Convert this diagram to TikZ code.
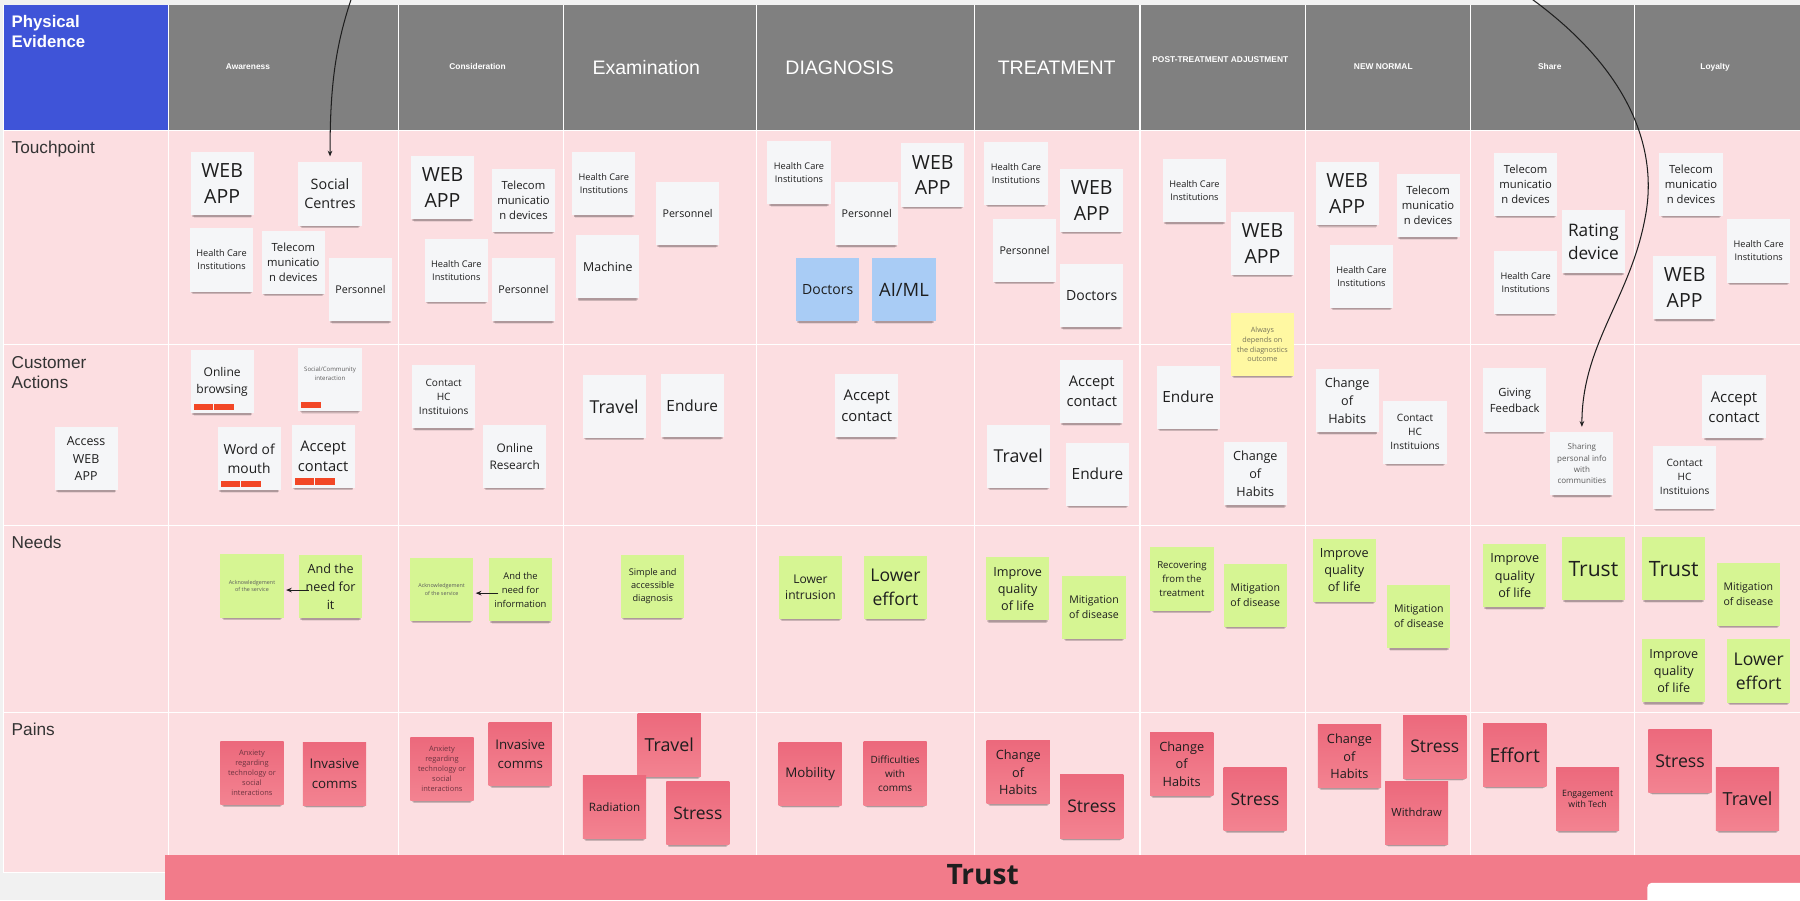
\documentclass[tikz,border=0pt]{standalone}
\usepackage{fontspec}
\setmainfont{Open Sans}
\newfontfamily\arialfont{Liberation Sans}
\usepackage{tikz}
\usetikzlibrary{arrows.meta}
\usetikzlibrary{shadows}
\definecolor{board}{HTML}{F1F1F1}
\definecolor{lane}{HTML}{FCDEE1}
\definecolor{headgray}{HTML}{808080}
\definecolor{evblue}{HTML}{3F54D8}
\definecolor{paper}{HTML}{F5F6F8}
\definecolor{noteblue}{HTML}{A9CCF5}
\definecolor{notegreen}{HTML}{D6F593}
\definecolor{noteyellow}{HTML}{FFF8A2}
\definecolor{redtop}{HTML}{EC697C}
\definecolor{redbot}{HTML}{F38391}
\definecolor{trustbar}{HTML}{F27B8A}
\definecolor{tagred}{HTML}{F24726}
\definecolor{ink}{HTML}{1E1E1E}
\definecolor{muted}{HTML}{5C5C5C}
\definecolor{mutedred}{HTML}{6E3440}
\definecolor{olivegray}{HTML}{76735A}
\definecolor{labelgray}{HTML}{333333}

\begin{document}
\begin{tikzpicture}[x=1pt, y=-1pt,
    note/.style = {rectangle, minimum width=55pt, minimum height=55pt, inner sep=1pt, align=center, text=ink,
                   general shadow={shadow yshift=-2.5pt, shadow scale=0.96, fill=black, opacity=0.14},
                   general shadow={shadow yshift=-4pt, shadow scale=0.93, fill=black, opacity=0.12},
                   general shadow={shadow yshift=-5.5pt, shadow scale=0.9, fill=black, opacity=0.08}},
    wnote/.style = {note, fill=paper},
    bnote/.style = {note, fill=noteblue},
    gnote/.style = {note, fill=notegreen},
    ynote/.style = {note, fill=noteyellow},
    rnote/.style = {note, top color=redtop, bottom color=redbot},
    fs/.style 2 args = {font=\fontsize{#1}{#2}\selectfont},
    lanelabel/.style = {anchor=base west, inner sep=0pt, text=labelgray, font=\arialfont\fontsize{15}{17}\selectfont},
    evlabel/.style = {anchor=base west, inner sep=0pt, text=white, font=\arialfont\bfseries\fontsize{14.6}{17}\selectfont},
    stage/.style = {anchor=base, inner sep=0pt, text=white, font=\arialfont\bfseries\fontsize{7.3}{9}\selectfont},
    bigstage/.style = {anchor=base west, inner sep=0pt, text=white, font=\arialfont\fontsize{17}{20}\selectfont},
    flow/.style = {-{Stealth[length=5pt,width=4pt]}, draw=ink, line width=0.9pt},
    tag/.style = {fill=tagred}]

    % Board
    \fill[board] (0,0) rectangle (1568,784);
    \useasboundingbox (0,0) rectangle (1568,784);
    \fill[lane] (3,114) rectangle (146.5,760);
    \fill[lane] (146.5,114) rectangle (1568,745);
    \fill[evblue] (3,4) rectangle (146.5,114);
    \fill[headgray] (146.5,4) rectangle (1568,114);
    \foreach \x in {146.5,347,491,659,849,993,1137,1281,1424}
        \draw[white, line width=1pt] (\x,4) -- (\x,745);
    \foreach \y in {114,300,458,621}
        \draw[white, line width=1pt] (3,\y) -- (1568,\y);
    \draw[white, line width=1pt] (3,4) -- (3,760) -- (146.5,760);
    \fill[trustbar] (144,745) rectangle (1568,784);
    \fill[white, rounded corners=4pt] (1435,769) rectangle (1590,800);

    % Headings
    \node[evlabel] (pe1) at (10,23.8) {Physical};
    \node[evlabel] (pe2) at (10,41.2) {Evidence};
    \node[stage] (s1) at (216,60.4) {Awareness};
    \node[stage] (s2) at (416,60.4) {Consideration};
    \node[bigstage] (s3) at (516,64.5) {Examination};
    \node[bigstage] (s4) at (684,64.5) {DIAGNOSIS};
    \node[bigstage] (s5) at (869,64.5) {TREATMENT};
    \node[stage] (s6) at (1063,54.6) {POST-TREATMENT ADJUSTMENT};
    \node[stage] (s7) at (1205,60.4) {NEW NORMAL};
    \node[stage] (s8) at (1350,60.4) {Share};
    \node[stage] (s9) at (1494,60.4) {Loyalty};
    \node[lanelabel] (l1) at (10,134) {Touchpoint};
    \node[lanelabel] (l2) at (10,320.7) {Customer};
    \node[lanelabel] (l3) at (10,338.3) {Actions};
    \node[lanelabel] (l4) at (10,477.6) {Needs};
    \node[lanelabel] (l5) at (10,641.1) {Pains};
    \node[font=\bfseries\fontsize{24.5}{28}\selectfont, text=ink] (trust) at (856,762) {Trust};

    % Touchpoint
    \node[wnote, fs={17}{22.5}] (t-aw-1) at (193.5,160) {WEB\\APP};
    \node[wnote, fs={12.5}{16.5}] (t-aw-2) at (287.5,169) {Social\\Centres};
    \node[wnote, fs={8}{11.3}] (t-aw-3) at (193,226.5) {Health Care\\Institutions};
    \node[wnote, fs={9.8}{13}] (t-aw-4) at (255.5,228.5) {Telecom\\municatio\\n devices};
    \node[wnote, fs={9.3}{12.5}] (t-aw-5) at (314,252.5) {Personnel};
    \node[wnote, fs={17}{22.5}] (t-co-1) at (385.5,163.5) {WEB\\APP};
    \node[wnote, fs={9.8}{13}] (t-co-2) at (456,174.5) {Telecom\\municatio\\n devices};
    \node[wnote, fs={8}{11.3}] (t-co-3) at (397.5,235.5) {Health Care\\Institutions};
    \node[wnote, fs={9.3}{12.5}] (t-co-4) at (456,252.5) {Personnel};
    \node[wnote, fs={8}{11.3}] (t-ex-1) at (526,160) {Health Care\\Institutions};
    \node[wnote, fs={9.3}{12.5}] (t-ex-2) at (599,186) {Personnel};
    \node[wnote, fs={10.8}{14}] (t-ex-3) at (529.5,232.5) {Machine};
    \node[wnote, fs={8}{11.3}] (t-di-1) at (696,150.5) {Health Care\\Institutions};
    \node[wnote, fs={9.3}{12.5}] (t-di-2) at (755,186) {Personnel};
    \node[wnote, fs={17}{22.5}] (t-di-3) at (812.5,152.5) {WEB\\APP};
    \node[bnote, fs={12.2}{16}] (t-di-4) at (721,252.5) {Doctors};
    \node[bnote, fs={16}{20}] (t-di-5) at (787.5,252.5) {AI/ML};
    \node[wnote, fs={8}{11.3}] (t-tr-1) at (885,151) {Health Care\\Institutions};
    \node[wnote, fs={17}{22.5}] (t-tr-2) at (951,174.5) {WEB\\APP};
    \node[wnote, fs={9.3}{12.5}] (t-tr-3) at (892.5,218) {Personnel};
    \node[wnote, fs={12.2}{16}] (t-tr-4) at (951,257.5) {Doctors};
    \node[wnote, fs={8}{11.3}] (t-po-1) at (1040.5,166) {Health Care\\Institutions};
    \node[wnote, fs={17}{22.5}] (t-po-2) at (1099.7,212) {WEB\\APP};
    \node[ynote, fs={6.3}{8.6}, text=olivegray] (t-po-3) at (1099.7,300) {Always\\depends on\\the diagnostics\\outcome};
    \node[wnote, fs={17}{22.5}] (t-nn-1) at (1173.5,168.5) {WEB\\APP};
    \node[wnote, fs={9.8}{13}] (t-nn-2) at (1244,179) {Telecom\\municatio\\n devices};
    \node[wnote, fs={8}{11.3}] (t-nn-3) at (1186,240.5) {Health Care\\Institutions};
    \node[wnote, fs={9.8}{13}] (t-sh-1) at (1329,160.5) {Telecom\\municatio\\n devices};
    \node[wnote, fs={15}{20}] (t-sh-2) at (1388,210.5) {Rating\\device};
    \node[wnote, fs={8}{11.3}] (t-sh-3) at (1329,246) {Health Care\\Institutions};
    \node[wnote, fs={9.8}{13}] (t-lo-1) at (1473,160.5) {Telecom\\municatio\\n devices};
    \node[wnote, fs={8}{11.3}] (t-lo-2) at (1532,218.6) {Health Care\\Institutions};
    \node[wnote, fs={17}{22.5}] (t-lo-3) at (1467.5,250.5) {WEB\\APP};

    % Customer actions
    \node[wnote, fs={10.8}{15}] (c-lane) at (75,399.5) {Access\\WEB\\APP};
    \node[wnote, fs={10.5}{15}] (c-aw-1) at (193.5,332.5) {Online\\browsing};
    \node[wnote] (c-aw-2) at (287.5,330.5) {};
    \node[fs={5.3}{7.8}, text=muted, align=center, anchor=north, inner sep=0pt] (c-aw-2t) at ([yshift=-17pt]c-aw-2.north) {Social/Community\\interaction};
    \node[wnote, fs={12}{16}] (c-aw-3) at (217,399.7) {Word of\\mouth};
    \node[wnote, fs={12.8}{17}] (c-aw-4) at (281.5,397.4) {Accept\\contact};
    \foreach \n/\k in {c-aw-1/2, c-aw-2/1, c-aw-3/2, c-aw-4/2}
        \foreach \i in {1,...,\k}
            \fill[tag] ([shift={(2.8+17.9*\i-17.9,-2.8)}]\n.south west) rectangle +(17.3,-5.5);
    \node[wnote, fs={8.8}{12.2}] (c-co-1) at (386.5,345.5) {Contact\\HC\\Instituions};
    \node[wnote, fs={10.3}{15}] (c-co-2) at (448.4,397.5) {Online\\Research};
    \node[wnote, fs={15.5}{20}] (c-ex-1) at (535,354) {Travel};
    \node[wnote, fs={13.4}{17}] (c-ex-2) at (603,353.5) {Endure};
    \node[wnote, fs={12.9}{17.7}] (c-di-1) at (755,353.5) {Accept\\contact};
    \node[wnote, fs={12.8}{17.7}] (c-tr-1) at (951,341) {Accept\\contact};
    \node[wnote, fs={15.5}{20}] (c-tr-2) at (887,397.4) {Travel};
    \node[wnote, fs={13.4}{17}] (c-tr-3) at (956,413) {Endure};
    \node[wnote, fs={13.4}{17}] (c-po-1) at (1035,346) {Endure};
    \node[wnote, fs={11}{15.7}] (c-po-2) at (1093.5,412.8) {Change\\of\\Habits};
    \node[wnote, fs={11}{15.7}] (c-nn-1) at (1173.5,349) {Change\\of\\Habits};
    \node[wnote, fs={8.8}{12.2}] (c-nn-2) at (1232.6,376.5) {Contact\\HC\\Instituions};
    \node[wnote, fs={9.8}{14}] (c-sh-1) at (1319.5,348.5) {Giving\\Feedback};
    \node[wnote, fs={7}{9.8}, text=muted] (c-sh-2) at (1378,404) {Sharing\\personal info\\with\\communities};
    \node[wnote, fs={13}{17.5}] (c-lo-1) at (1510.5,354.4) {Accept\\contact};
    \node[wnote, fs={8.8}{12.2}] (c-lo-2) at (1467.5,415.7) {Contact\\HC\\Instituions};

    % Needs
    \node[gnote, fs={4.7}{6.8}, text=muted] (n-aw-1) at (219.5,510.5) {Acknowledgement\\of the service};
    \node[gnote, fs={11}{15.7}] (n-aw-2) at (288,511) {And the\\need for\\it};
    \node[gnote, fs={4.7}{6.8}, text=muted] (n-co-1) at (384.7,513.4) {Acknowledgement\\of the service};
    \node[gnote, fs={8.2}{12.2}] (n-co-2) at (453.4,513.7) {And the\\need for\\information};
    \node[gnote, fs={8}{11.4}] (n-ex-1) at (568.6,510.6) {Simple and\\accessible\\diagnosis};
    \node[gnote, fs={10.5}{14}] (n-di-1) at (706,511.4) {Lower\\intrusion};
    \node[gnote, fs={15.3}{21}] (n-di-2) at (780,511.4) {Lower\\effort};
    \node[gnote, fs={11}{15}] (n-tr-1) at (886.5,513) {Improve\\quality\\of life};
    \node[gnote, fs={9.2}{13}] (n-tr-2) at (953,529) {Mitigation\\of disease};
    \node[gnote, fs={8.4}{12.2}] (n-po-1) at (1029.6,504.4) {Recovering\\from the\\treatment};
    \node[gnote, fs={9.2}{13}] (n-po-2) at (1093.5,518.5) {Mitigation\\of disease};
    \node[gnote, fs={11}{15}] (n-nn-1) at (1171,496.8) {Improve\\quality\\of life};
    \node[gnote, fs={9.2}{13}] (n-nn-2) at (1236,537) {Mitigation\\of disease};
    \node[gnote, fs={11}{15}] (n-sh-1) at (1319.5,501.4) {Improve\\quality\\of life};
    \node[gnote, fs={18.4}{22}] (n-sh-2) at (1388,495.5) {Trust};
    \node[gnote, fs={18.4}{22}] (n-lo-1) at (1458,495.5) {Trust};
    \node[gnote, fs={9.2}{13}] (n-lo-2) at (1523,517.5) {Mitigation\\of disease};
    \node[gnote, fs={11}{15}] (n-lo-3) at (1458,584.4) {Improve\\quality\\of life};
    \node[gnote, fs={15.3}{21}] (n-lo-4) at (1532,584.5) {Lower\\effort};

    % Pains
    \node[rnote, fs={6.5}{8.7}, text=mutedred] (p-aw-1) at (219.5,673.5) {Anxiety\\regarding\\technology or\\social\\interactions};
    \node[rnote, fs={11.6}{16.8}] (p-aw-2) at (291.4,674) {Invasive\\comms};
    \node[rnote, fs={6.5}{8.7}, text=mutedred] (p-co-1) at (385,670) {Anxiety\\regarding\\technology or\\social\\interactions};
    \node[rnote, fs={11.6}{16.8}] (p-co-2) at (453.2,657) {Invasive\\comms};
    \node[rnote, fs={15.6}{20}] (p-ex-1) at (583,649) {Travel};
    \node[rnote, fs={10.1}{13}] (p-ex-2) at (535.3,703) {Radiation};
    \node[rnote, fs={15.2}{20}] (p-ex-3) at (607.9,708.3) {Stress};
    \node[rnote, fs={11.6}{15}] (p-di-1) at (705.7,674) {Mobility};
    \node[rnote, fs={8.7}{12}] (p-di-2) at (779.7,673.8) {Difficulties\\with\\comms};
    \node[rnote, fs={11.1}{15.2}] (p-tr-1) at (887,672.8) {Change\\of\\Habits};
    \node[rnote, fs={15.2}{20}] (p-tr-2) at (951,702.5) {Stress};
    \node[rnote, fs={11.1}{15.2}] (p-po-1) at (1029.4,665.5) {Change\\of\\Habits};
    \node[rnote, fs={15.2}{20}] (p-po-2) at (1093.3,696) {Stress};
    \node[rnote, fs={11.1}{15.2}] (p-nn-1) at (1175.5,658.8) {Change\\of\\Habits};
    \node[rnote, fs={15.2}{20}] (p-nn-2) at (1249.8,650.4) {Stress};
    \node[rnote, fs={9.8}{13}] (p-nn-3) at (1234,708) {Withdraw};
    \node[rnote, fs={16.8}{21}] (p-sh-1) at (1319.5,657.5) {Effort};
    \node[rnote, fs={7.6}{10.2}] (p-sh-2) at (1383,696) {Engagement\\with Tech};
    \node[rnote, fs={15.4}{20}] (p-lo-1) at (1463.5,662.7) {Stress};
    \node[rnote, fs={15.7}{20}] (p-lo-2) at (1522.3,696) {Travel};

    % Edges
    \coordinate (in-aw) at (307,-4);
    \coordinate (in-sh) at (1330,-4);
    \coordinate (bend-sh) at (1433,190);
    \draw[flow] (in-aw) .. controls (292,40) and (287.5,75) .. ([yshift=5pt]t-aw-2.north);
    \draw[flow] (in-sh) .. controls (1420,60) and (1445,130) .. (bend-sh) .. controls (1420,260) and (1378,300) .. ([yshift=4.5pt]c-sh-2.north);
    \draw[flow] ([xshift=8.5pt,yshift=-3pt]n-aw-2.west) -- ([xshift=2pt,yshift=-3.5pt]n-aw-1.east);
    \draw[flow] ([xshift=8.5pt,yshift=-3pt]n-co-2.west) -- ([xshift=2pt,yshift=-3.3pt]n-co-1.east);
\end{tikzpicture}
\end{document}
